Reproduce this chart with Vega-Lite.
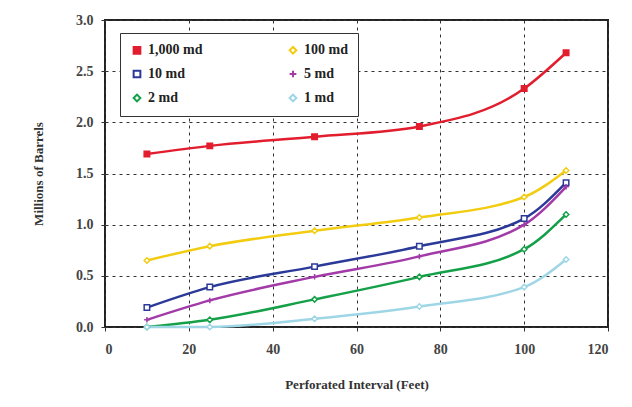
{
  "$schema": "https://vega.github.io/schema/vega-lite/v6.json",
  "width": 503,
  "height": 307,
  "autosize": {"type": "none"},
  "padding": {"left": 105, "top": 20, "right": 24, "bottom": 80},
  "background": "white",
  "config": {
    "font": "Liberation Serif",
    "view": {"stroke": "#222", "strokeWidth": 2},
    "axis": {
      "labelFont": "Liberation Serif",
      "labelFontWeight": "bold",
      "labelFontSize": 14,
      "labelColor": "#444",
      "titleFont": "Liberation Serif",
      "titleFontWeight": "bold",
      "titleFontSize": 13,
      "titleColor": "#333",
      "gridColor": "#333",
      "gridDash": [3, 4],
      "gridWidth": 1,
      "domain": false,
      "tickColor": "#333",
      "tickSize": 4
    }
  },
  "data": {
    "values": [
      {"x": 10, "y": 1.69, "series": "1,000 md"},
      {"x": 25, "y": 1.77, "series": "1,000 md"},
      {"x": 50, "y": 1.86, "series": "1,000 md"},
      {"x": 75, "y": 1.96, "series": "1,000 md"},
      {"x": 100, "y": 2.33, "series": "1,000 md"},
      {"x": 110, "y": 2.68, "series": "1,000 md"},
      {"x": 10, "y": 0.65, "series": "100 md"},
      {"x": 25, "y": 0.79, "series": "100 md"},
      {"x": 50, "y": 0.94, "series": "100 md"},
      {"x": 75, "y": 1.07, "series": "100 md"},
      {"x": 100, "y": 1.27, "series": "100 md"},
      {"x": 110, "y": 1.53, "series": "100 md"},
      {"x": 10, "y": 0.19, "series": "10 md"},
      {"x": 25, "y": 0.39, "series": "10 md"},
      {"x": 50, "y": 0.59, "series": "10 md"},
      {"x": 75, "y": 0.79, "series": "10 md"},
      {"x": 100, "y": 1.06, "series": "10 md"},
      {"x": 110, "y": 1.41, "series": "10 md"},
      {"x": 10, "y": 0.07, "series": "5 md"},
      {"x": 25, "y": 0.26, "series": "5 md"},
      {"x": 50, "y": 0.49, "series": "5 md"},
      {"x": 75, "y": 0.69, "series": "5 md"},
      {"x": 100, "y": 1.0, "series": "5 md"},
      {"x": 110, "y": 1.37, "series": "5 md"},
      {"x": 10, "y": 0.0, "series": "2 md"},
      {"x": 25, "y": 0.07, "series": "2 md"},
      {"x": 50, "y": 0.27, "series": "2 md"},
      {"x": 75, "y": 0.49, "series": "2 md"},
      {"x": 100, "y": 0.76, "series": "2 md"},
      {"x": 110, "y": 1.1, "series": "2 md"},
      {"x": 10, "y": 0.0, "series": "1 md"},
      {"x": 25, "y": 0.0, "series": "1 md"},
      {"x": 50, "y": 0.08, "series": "1 md"},
      {"x": 75, "y": 0.2, "series": "1 md"},
      {"x": 100, "y": 0.39, "series": "1 md"},
      {"x": 110, "y": 0.66, "series": "1 md"}
    ]
  },
  "encoding": {
    "x": {
      "field": "x", "type": "quantitative",
      "scale": {"domain": [0, 120], "nice": false},
      "axis": {"values": [0, 20, 40, 60, 80, 100, 120], "title": "Perforated Interval (Feet)", "titlePadding": 22, "labelPadding": 11}
    },
    "y": {
      "field": "y", "type": "quantitative",
      "scale": {"domain": [0, 3], "nice": false},
      "axis": {"values": [0, 0.5, 1, 1.5, 2, 2.5, 3], "format": ".1f", "title": "Millions of Barrels", "titlePadding": 30, "labelPadding": 8}
    },
    "color": {
      "field": "series", "type": "nominal",
      "scale": {
        "domain": ["1,000 md", "10 md", "2 md", "100 md", "5 md", "1 md"],
        "range": ["#e21d2e", "#2b3a98", "#14a048", "#f2cc10", "#a23aa8", "#9ed6e6"]
      },
      "legend": {
        "title": null,
        "orient": "none",
        "legendX": 15,
        "legendY": 13,
        "columns": 2,
        "columnPadding": 82,
        "rowPadding": 8,
        "padding": 10,
        "strokeColor": "#333",
        "fillColor": "white",
        "labelFont": "Liberation Serif",
        "labelFontWeight": "bold",
        "labelFontSize": 14,
        "labelColor": "#222",
        "symbolSize": 45,
        "symbolStrokeWidth": 2,
        "labelLimit": 200
      }
    }
  },
  "layer": [
    {
      "mark": {"type": "line", "interpolate": "monotone", "strokeWidth": 2.5},
      "encoding": {"detail": {"field": "series"}}
    },
    {
      "mark": {"type": "point", "filled": false, "strokeWidth": 1.5, "size": 30, "opacity": 1},
      "encoding": {
        "shape": {
          "field": "series", "type": "nominal",
          "scale": {
            "domain": ["1,000 md", "10 md", "2 md", "100 md", "5 md", "1 md"],
            "range": ["square", "square", "diamond", "diamond", "M-1,0L1,0M0,-1L0,1", "diamond"]
          },
          "legend": null
        },
        "fill": {
          "field": "series", "type": "nominal",
          "scale": {
            "domain": ["1,000 md", "10 md", "2 md", "100 md", "5 md", "1 md"],
            "range": ["#e21d2e", "white", "white", "white", "#a23aa8", "white"]
          },
          "legend": null
        }
      }
    }
  ]
}
